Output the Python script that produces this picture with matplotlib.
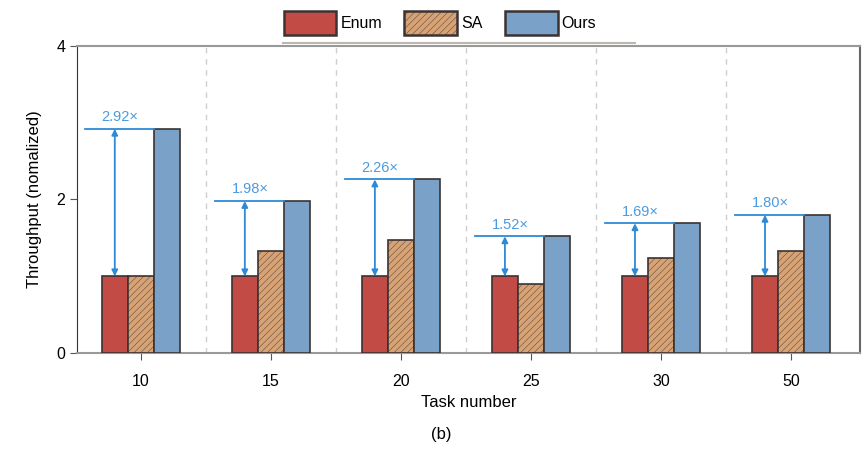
import matplotlib
matplotlib.use("Agg")
import matplotlib.pyplot as plt
from matplotlib.lines import Line2D
import numpy as np

plt.rcParams['font.family'] = ['Liberation Sans', 'DejaVu Sans']
plt.rcParams['hatch.color'] = '#c9966b'
plt.rcParams['hatch.linewidth'] = 0.3

categories = ["10", "15", "20", "25", "30", "50"]
enum_vals = [1.0, 1.0, 1.0, 1.0, 1.0, 1.0]
sa_vals = [1.0, 1.33, 1.47, 0.90, 1.24, 1.33]
ours_vals = [2.92, 1.98, 2.26, 1.52, 1.69, 1.80]
speedup_labels = ["2.92×", "1.98×", "2.26×", "1.52×", "1.69×", "1.80×"]

c_enum = "#c24b45"
c_sa = "#d7a374"
c_ours = "#7aa2c9"
edge = "#3b3232"
ann = "#2e8ad6"

fig = plt.figure(figsize=(8.66, 4.58), dpi=100)
ax = fig.add_axes([0.089, 0.229, 0.904, 0.671])

x = np.arange(len(categories))
w = 0.2
b1 = ax.bar(x - w, enum_vals, w, color=c_enum, edgecolor=edge, linewidth=1.2, label="Enum", zorder=3)
b2 = ax.bar(x, sa_vals, w, color=c_sa, edgecolor=edge, linewidth=1.2, label="SA", hatch="/////", zorder=3)
b3 = ax.bar(x + w, ours_vals, w, color=c_ours, edgecolor=edge, linewidth=1.2, label="Ours", zorder=3)

for i in range(len(categories)):
    y = ours_vals[i]
    ax.plot([x[i] - 0.43, x[i] + w / 2], [y, y], color=ann, lw=1.3, zorder=4)
    ax.annotate("", xy=(x[i] - w, y), xytext=(x[i] - w, enum_vals[i]),
                arrowprops=dict(arrowstyle="<|-|>", color=ann, lw=1.3,
                                mutation_scale=9, shrinkA=0, shrinkB=0), zorder=4)
    ax.text(x[i] - 0.16, y + 0.06, speedup_labels[i], color="#4a9be0",
            ha="center", va="bottom", fontsize=10.5, zorder=4)

for s in np.arange(0.5, len(categories) - 0.5, 1.0):
    ax.axvline(s, color="#cfcfcf", lw=1, ls=(0, (4, 4)), zorder=1)

ax.set_xlim(-0.49, 5.53)
ax.set_ylim(0, 4)
ax.set_yticks([0, 2, 4])
ax.set_xticks(x)
ax.set_xticklabels(categories)
ax.tick_params(axis="both", labelsize=11.5, direction="out", length=5, color="#555555")
ax.tick_params(axis="x", pad=10)
ax.set_xlabel("Task number", fontsize=12, labelpad=4)
ax.set_ylabel("Throughput (nomalized)", fontsize=12, labelpad=10)

ax.spines["top"].set_color("#999999")
ax.spines["top"].set_linewidth(1.5)
ax.spines["left"].set_color("#333333")
ax.spines["bottom"].set_color("#999999")
ax.spines["bottom"].set_linewidth(1.5)
ax.spines["right"].set_color("#666666")
ax.spines["right"].set_linewidth(1.5)

leg = fig.legend(handles=[b1, b2, b3], labels=["Enum", "SA", "Ours"], ncol=3,
                 loc="center", bbox_to_anchor=(0.508, 0.95), frameon=False,
                 fontsize=11.5, handlelength=3.3, handleheight=2.0, handletextpad=0.25,
                 columnspacing=1.4, borderaxespad=0, borderpad=0.2)
for h in leg.legend_handles:
    h.set_linewidth(1.8)

fig.add_artist(Line2D([283 / 866, 635 / 866], [1 - 43 / 458, 1 - 43 / 458],
                      color="#bdb5b0", lw=1.5, transform=fig.transFigure))

fig.text(0.51, 0.035, "(b)", ha="center", va="bottom", fontsize=12)

fig.savefig("out.png", dpi=100)
